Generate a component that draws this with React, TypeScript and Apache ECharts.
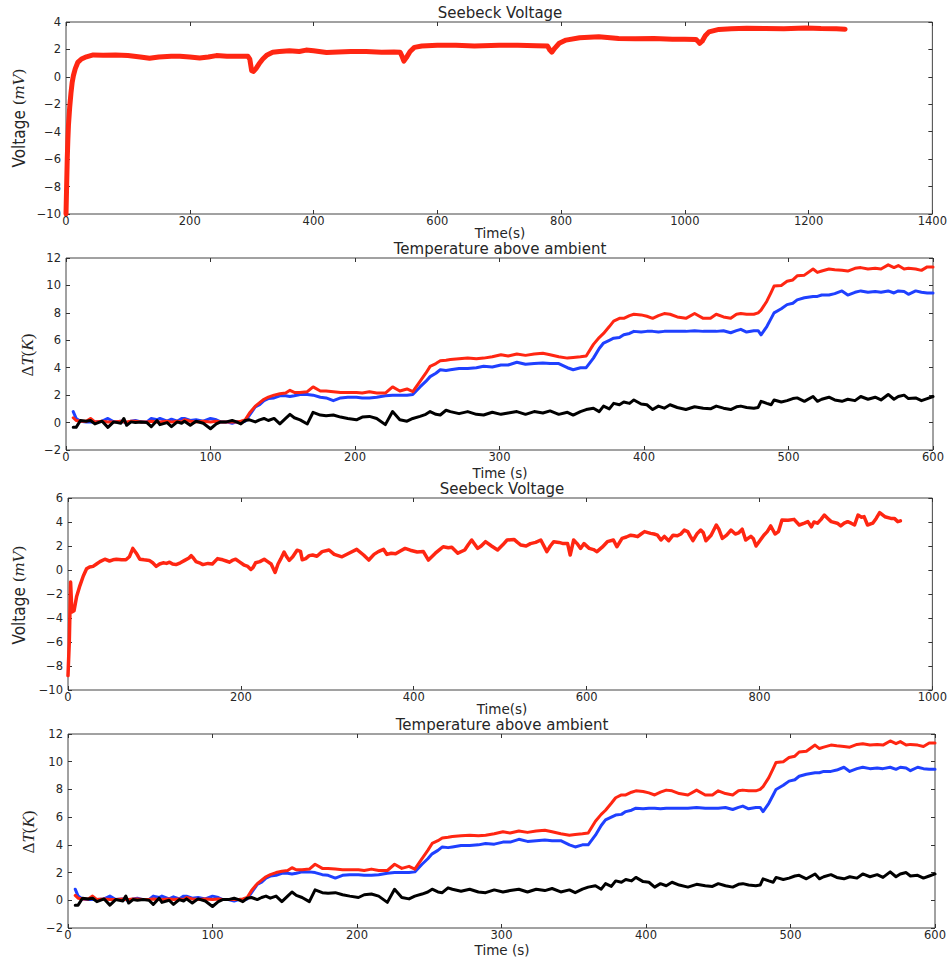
import React, { useEffect, useRef } from "react";
import * as echarts from "echarts";

// Panel 1: Seebeck voltage (0-1400 s)
const seebeck1Time = [0, 1, 2, 3, 4, 6, 8, 10, 12, 15, 19, 25, 33, 44, 60, 80, 100, 120, 135, 150, 170, 184, 200, 216, 230, 243, 260, 280, 294, 297, 300, 303, 307, 312, 318, 325, 334, 345, 361, 377, 388, 400, 421, 440, 460, 485, 510, 530, 540, 543, 546, 550, 556, 563, 575, 600, 630, 660, 700, 730, 760, 778, 782, 785, 790, 797, 808, 830, 861, 893, 920, 950, 980, 1000, 1018, 1021, 1024, 1028, 1033, 1039, 1055, 1075, 1100, 1130, 1160, 1195, 1220, 1245, 1259];
const seebeck1Volt = [-10, -8, -6, -4.6, -3.5, -2.2, -1.2, -0.4, 0.1, 0.6, 1.05, 1.3, 1.46, 1.6, 1.58, 1.6, 1.55, 1.45, 1.35, 1.45, 1.5, 1.5, 1.45, 1.38, 1.45, 1.55, 1.5, 1.5, 1.5, 1.3, 0.45, 0.4, 0.6, 0.95, 1.3, 1.6, 1.8, 1.85, 1.9, 1.85, 1.95, 1.9, 1.78, 1.82, 1.85, 1.84, 1.8, 1.82, 1.8, 1.5, 1.15, 1.4, 1.85, 2.15, 2.25, 2.3, 2.3, 2.25, 2.3, 2.3, 2.27, 2.25, 1.95, 1.8, 2.1, 2.45, 2.68, 2.85, 2.92, 2.8, 2.78, 2.8, 2.75, 2.75, 2.73, 2.6, 2.45, 2.6, 3.0, 3.28, 3.46, 3.5, 3.55, 3.52, 3.5, 3.57, 3.52, 3.5, 3.48];

// Panels 2 & 4: temperature above ambient (0-600 s)
const tempTime = [5, 7, 10, 14, 17, 20, 25, 29, 33, 38, 40, 42, 45, 48, 52, 56, 59, 63, 65, 70, 73, 77, 80, 82, 86, 90, 95, 100, 104, 107, 111, 115, 118, 121, 124, 127, 131, 134, 137, 140, 144, 148, 152, 155, 158, 162, 167, 171, 176, 180, 185, 190, 195, 201, 205, 210, 215, 221, 226, 231, 236, 240, 245, 249, 252, 256, 259, 263, 266, 272, 278, 284, 289, 295, 301, 306, 312, 318, 324, 330, 335, 341, 347, 351, 356, 360, 365, 369, 372, 376, 379, 383, 386, 390, 393, 398, 402, 406, 410, 414, 418, 423, 429, 435, 441, 446, 450, 455, 460, 464, 467, 471, 476, 479, 481, 485, 488, 490, 495, 499, 503, 506, 511, 517, 520, 523, 528, 532, 537, 541, 546, 550, 555, 560, 564, 569, 573, 576, 580, 583, 588, 592, 596, 600];
const tempRed = [0.35, 0.15, 0.1, 0.1, 0.3, 0.05, 0.1, 0.05, 0.05, 0.1, 0.05, 0.05, 0.1, 0.1, 0.05, 0.05, 0.1, 0.05, 0.05, 0.1, 0.05, 0.1, 0.05, 0.2, 0.1, 0.05, 0.1, 0.05, 0.1, 0.05, 0.05, 0.05, 0.05, 0.1, 0.2, 0.7, 1.2, 1.45, 1.7, 1.85, 2.0, 2.1, 2.15, 2.35, 2.2, 2.2, 2.25, 2.6, 2.3, 2.3, 2.25, 2.2, 2.2, 2.2, 2.15, 2.25, 2.15, 2.15, 2.6, 2.3, 2.45, 2.25, 3.0, 3.6, 4.1, 4.3, 4.5, 4.55, 4.6, 4.65, 4.7, 4.65, 4.7, 4.8, 4.95, 4.85, 5.0, 4.9, 5.0, 5.05, 4.95, 4.8, 4.7, 4.75, 4.8, 4.85, 5.7, 6.2, 6.5, 7.0, 7.4, 7.6, 7.6, 7.8, 7.9, 7.85, 7.75, 7.6, 7.8, 7.95, 7.9, 7.7, 7.6, 7.95, 7.6, 7.6, 7.9, 7.7, 7.6, 7.9, 7.95, 7.9, 7.9, 8.0, 8.2, 8.85, 9.5, 9.95, 10.0, 10.3, 10.4, 10.7, 10.75, 11.2, 10.95, 11.05, 11.2, 11.15, 11.1, 11.05, 11.25, 11.3, 11.2, 11.25, 11.2, 11.5, 11.3, 11.45, 11.2, 11.25, 11.2, 11.1, 11.35, 11.35];
const tempBlue = [0.8, 0.3, 0.1, 0.05, 0.05, 0.05, 0.1, 0.3, 0.05, 0.1, 0.05, -0.05, 0.1, 0.15, 0.05, 0.05, 0.3, 0.2, 0.3, 0.1, 0.25, 0.1, 0.3, 0.3, 0.15, 0.2, 0.1, 0.3, 0.2, 0.05, 0.05, -0.05, 0.05, 0.05, 0.1, 0.55, 1.15, 1.3, 1.6, 1.75, 1.8, 1.95, 1.95, 1.9, 1.95, 2.05, 2.05, 2.0, 1.85, 1.8, 1.6, 1.8, 1.85, 1.85, 1.8, 1.8, 1.85, 1.95, 2.0, 2.0, 2.0, 2.05, 2.6, 3.0, 3.35, 3.6, 3.85, 3.8, 3.85, 3.95, 3.95, 4.0, 4.1, 4.05, 4.2, 4.2, 4.4, 4.25, 4.3, 4.35, 4.3, 4.3, 4.0, 3.85, 4.0, 4.0, 4.7, 5.4, 5.8, 6.0, 6.15, 6.2, 6.4, 6.5, 6.65, 6.6, 6.65, 6.65, 6.6, 6.65, 6.65, 6.65, 6.65, 6.7, 6.65, 6.65, 6.65, 6.7, 6.55, 6.7, 6.8, 6.6, 6.7, 6.7, 6.4, 7.0, 7.6, 8.0, 8.3, 8.6, 8.7, 8.95, 9.1, 9.2, 9.2, 9.3, 9.3, 9.4, 9.6, 9.3, 9.5, 9.6, 9.5, 9.55, 9.5, 9.6, 9.45, 9.6, 9.55, 9.35, 9.6, 9.5, 9.45, 9.45];
const tempBlack = [-0.35, -0.35, 0.15, 0.1, 0.15, -0.1, 0.1, -0.35, 0.05, -0.05, 0.3, -0.2, 0.05, 0, 0.05, 0, -0.3, 0.15, -0.15, 0, -0.3, 0.05, -0.05, 0.1, -0.2, 0.1, -0.05, -0.45, -0.1, 0.05, 0.05, 0.15, 0.05, -0.1, 0.15, 0.2, 0.05, 0.2, 0.3, 0.15, 0.3, -0.1, 0.3, 0.6, 0.35, 0.2, -0.1, 0.75, 0.55, 0.5, 0.55, 0.4, 0.3, 0.2, 0.4, 0.45, 0.3, -0.15, 0.8, 0.2, 0.1, 0.3, 0.45, 0.6, 0.8, 0.6, 0.55, 0.9, 0.8, 0.65, 0.8, 0.6, 0.55, 0.75, 0.6, 0.7, 0.8, 0.6, 0.8, 0.7, 0.85, 0.6, 0.75, 0.55, 0.8, 0.95, 1.05, 0.8, 1.2, 1.0, 1.4, 1.3, 1.5, 1.4, 1.65, 1.35, 1.3, 0.95, 1.2, 1.05, 1.3, 1.1, 0.95, 1.15, 1.05, 1.0, 1.2, 1.05, 0.95, 1.15, 1.2, 1.1, 1.05, 1.1, 1.55, 1.4, 1.3, 1.65, 1.5, 1.6, 1.75, 1.8, 1.55, 1.9, 1.55, 1.7, 1.85, 1.65, 1.55, 1.7, 1.6, 1.9, 1.7, 1.85, 1.65, 2.05, 1.7, 1.9, 2.0, 1.75, 1.8, 1.6, 1.75, 1.9];

// Panel 3: Seebeck voltage (0-1000 s)
const seebeck2Time = [0, 1.5, 3, 4.5, 7, 10, 13.8, 17.7, 21.5, 25, 29, 33, 37, 42.6, 48, 52, 56, 62, 67, 71, 75, 79, 83, 88, 94, 98, 102, 106, 110, 114, 117.5, 121, 125, 130, 135, 140, 142.5, 145, 148, 152, 156, 162, 167, 173, 176, 179, 183, 186.6, 190, 194, 198, 204, 208, 211.6, 214, 217, 222, 227, 231, 235, 239.6, 243, 246, 250, 253, 256, 260, 265, 269, 271, 275, 279, 283, 288, 294, 302, 308, 317, 325, 334, 342, 348, 354, 359, 365, 369, 374, 379, 385, 390, 396, 404, 411, 417, 425, 430, 434, 440, 444, 451, 459, 463, 467, 474, 478, 483, 490, 497, 503, 508, 516, 520, 524, 530, 535, 541, 547, 554, 558, 562, 568, 573, 578, 581, 585, 589, 593, 597, 603, 608, 612, 618, 624, 631, 635, 641, 646, 651, 655, 659, 663, 667, 674, 678, 682, 686, 690, 695, 700, 705, 709, 713, 717, 720, 723, 728, 732, 735, 738, 744, 750, 753, 757, 762, 767, 772, 776, 780, 784, 790, 793, 796, 801, 805, 809, 813, 818, 822, 826, 833, 840, 846, 852, 856, 860, 863, 867, 871, 875, 879, 883, 890, 894, 898, 902, 906, 910, 914, 918, 921, 925, 931, 935, 939, 945, 952, 956, 960, 963];
const seebeck2Volt = [-8.8, -6, -1, -3.5, -3.4, -2.2, -1.3, -0.5, 0.1, 0.25, 0.3, 0.5, 0.7, 0.9, 0.75, 0.85, 0.9, 0.85, 0.85, 1.1, 1.8, 1.4, 0.9, 0.85, 0.8, 0.6, 0.3, 0.5, 0.6, 0.55, 0.65, 0.5, 0.45, 0.6, 0.8, 1.0, 1.2, 1.0, 0.7, 0.6, 0.45, 0.55, 0.5, 0.95, 0.9, 0.85, 0.75, 0.65, 0.8, 0.9, 0.7, 0.4, 0.3, 0.05, 0.2, 0.6, 0.7, 0.9, 0.7, 0.5, -0.2, 0.5, 0.9, 1.5, 1.1, 0.8, 1.1, 1.65, 1.55, 0.85, 0.95, 1.2, 1.25, 1.15, 1.53, 1.67, 1.3, 1.1, 1.4, 1.72, 1.25, 0.83, 1.3, 1.53, 1.72, 1.3, 1.4, 1.35, 1.6, 1.8, 1.65, 1.5, 1.55, 0.83, 1.4, 1.7, 1.94, 1.85, 1.9, 1.4, 1.67, 2.1, 2.5, 1.8, 2.0, 2.36, 2.0, 1.67, 2.1, 2.5, 2.55, 2.3, 2.08, 2.0, 2.2, 2.3, 2.5, 1.53, 2.0, 2.36, 2.3, 2.2, 2.2, 1.25, 2.5, 2.2, 1.8, 2.2, 1.8, 1.7, 1.53, 1.9, 2.36, 2.5, 1.94, 2.64, 2.75, 2.9, 2.85, 2.78, 3.0, 3.2, 3.05, 3.0, 2.9, 2.5, 2.8, 2.44, 2.9, 2.85, 3.0, 3.33, 3.2, 2.8, 2.44, 3.05, 3.33, 3.1, 2.44, 2.9, 3.75, 3.4, 2.64, 2.9, 3.33, 3.0, 3.1, 3.4, 2.5, 2.8, 2.6, 2.0, 2.5, 2.9, 3.2, 3.67, 3.0, 3.2, 4.17, 4.15, 4.22, 3.75, 3.9, 4.03, 3.6, 4.0, 3.9, 4.2, 4.58, 4.3, 4.03, 3.9, 3.67, 3.9, 4.03, 3.9, 3.75, 4.58, 4.4, 4.45, 3.75, 3.9, 4.3, 4.78, 4.44, 4.3, 4.3, 4.03, 4.1];

const titles = ["Seebeck Voltage", "Temperature above ambient", "Seebeck Voltage", "Temperature above ambient"];
const xLabels = ["Time(s)", "Time (s)", "Time(s)", "Time (s)"];

const RED = "#ff2612";
const BLUE = "#1f40ff";
const BLACK = "#000000";
const TXT = "#262626";

const pairs = (xs: number[], ys: number[]) => xs.map((x, i) => [x, ys[i]]);

export default function App() {
  const ref = useRef<HTMLDivElement>(null);
  useEffect(() => {
    if (!ref.current) return;
    const chart = echarts.init(ref.current, undefined, { renderer: "svg" });

    const grids = [
      { left: 66, top: 22, width: 868, height: 192 },
      { left: 66, top: 258, width: 867, height: 192 },
      { left: 68, top: 498, width: 868, height: 192 },
      { left: 68, top: 734, width: 867, height: 194 },
    ];
    const xr = [
      { min: 0, max: 1400, interval: 200 },
      { min: 0, max: 600, interval: 100 },
      { min: 0, max: 1000, interval: 200 },
      { min: 0, max: 600, interval: 100 },
    ];
    const yr = [
      { min: -10, max: 4, interval: 2 },
      { min: -2, max: 12, interval: 2 },
      { min: -10, max: 6, interval: 2 },
      { min: -2, max: 12, interval: 2 },
    ];
    const fmt = (v: number) => String(v).replace("-", "\u2212");
    const labelStyle = { color: TXT, fontSize: 11.5, fontFamily: "DejaVu Sans" };

    const xAxis: any[] = [];
    const yAxis: any[] = [];
    grids.forEach((_, k) => {
      ["bottom", "top"].forEach((pos, j) => {
        xAxis.push({
          type: "value",
          gridIndex: k,
          position: pos,
          ...xr[k],
          axisLine: { show: false, onZero: false },
          axisTick: { show: true, inside: true, length: 4, lineStyle: { color: "#333" } },
          axisLabel: { show: j === 0, margin: 1, formatter: fmt, ...labelStyle },
          splitLine: { show: false },
        });
      });
      ["left", "right"].forEach((pos, j) => {
        yAxis.push({
          type: "value",
          gridIndex: k,
          position: pos,
          ...yr[k],
          axisLine: { show: false, onZero: false },
          axisTick: { show: true, inside: true, length: 4, lineStyle: { color: "#333" } },
          axisLabel: { show: j === 0, margin: 5, formatter: fmt, ...labelStyle },
          splitLine: { show: false },
        });
      });
    });

    const line = (k: number, data: number[][], color: string, width: number) => ({
      type: "line",
      xAxisIndex: 2 * k,
      yAxisIndex: 2 * k,
      data,
      showSymbol: false,
      symbol: "none",
      lineStyle: { color, width, join: "round", cap: "round" },
      itemStyle: { color },
    });

    const tempSeries = (k: number) => [
      line(k, pairs(tempTime, tempBlue), BLUE, 3),
      line(k, pairs(tempTime, tempRed), RED, 3),
      line(k, pairs(tempTime, tempBlack), BLACK, 3),
    ];

    const series = [
      line(0, pairs(seebeck1Time, seebeck1Volt), RED, 5),
      ...tempSeries(1),
      line(2, pairs(seebeck2Time, seebeck2Volt), RED, 3.5),
      ...tempSeries(3),
    ];

    const titleY = [13, 249, 489, 725];
    const titleX = [500, 500, 502, 502];
    const xLabelY = [233, 473, 709, 950];
    const yLabelPos = [
      [19, 118],
      [27, 355],
      [19, 595],
      [28, 832],
    ];

    const graphic: any[] = [];
    titles.forEach((t, k) => {
      graphic.push({
        type: "text",
        x: titleX[k],
        y: titleY[k],
        style: { text: t, fill: TXT, font: "15px 'DejaVu Sans'", textAlign: "center", textVerticalAlign: "middle" },
      });
      graphic.push({
        type: "text",
        x: titleX[k],
        y: xLabelY[k],
        style: { text: xLabels[k], fill: TXT, font: "13.5px 'DejaVu Sans'", textAlign: "center", textVerticalAlign: "middle" },
      });
      const isVolt = k % 2 === 0;
      graphic.push({
        type: "text",
        x: yLabelPos[k][0],
        y: yLabelPos[k][1],
        rotation: Math.PI / 2,
        style: isVolt
          ? {
              text: "{n|Voltage }{m|(}{i|mV}{m|)}",
              textAlign: "center",
              textVerticalAlign: "middle",
              rich: {
                n: { fontFamily: "Liberation Sans Narrow, DejaVu Sans Condensed, Liberation Sans", fontSize: 17, fill: TXT, color: TXT },
                m: { fontFamily: "DejaVu Serif", fontSize: 15, fill: TXT, color: TXT },
                i: { fontFamily: "DejaVu Serif", fontStyle: "italic", fontSize: 15, fill: TXT, color: TXT },
              },
            }
          : {
              text: "{m|\u0394}{i|T}{m|(}{i|K}{m|)}",
              textAlign: "center",
              textVerticalAlign: "middle",
              rich: {
                m: { fontFamily: "Liberation Serif", fontSize: 17, fill: TXT, color: TXT },
                i: { fontFamily: "Liberation Serif", fontStyle: "italic", fontSize: 17, fill: TXT, color: TXT },
              },
            },
      });
    });

    chart.setOption({
      animation: false,
      backgroundColor: "#ffffff",
      grid: grids.map((g) => ({ ...g, show: true, borderColor: "#444", borderWidth: 1, backgroundColor: "transparent" })),
      xAxis,
      yAxis,
      series,
      graphic,
    });
    return () => chart.dispose();
  }, []);
  return <div ref={ref} style={{ position: "absolute", left: 0, top: 0, width: 950, height: 957 }} />;
}
